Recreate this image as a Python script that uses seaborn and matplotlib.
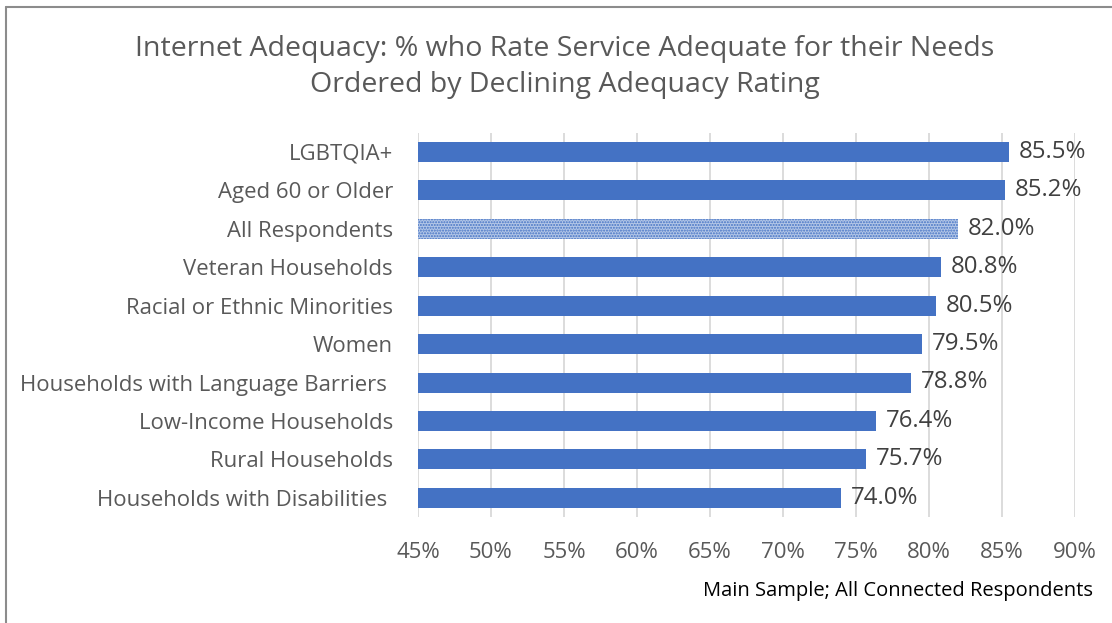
import pandas as pd
import matplotlib
matplotlib.use("Agg")
import matplotlib.pyplot as plt
import seaborn as sns
from matplotlib.lines import Line2D

# данные
groups = ["LGBTQIA+", "Aged 60 or Older", "All Respondents", "Veteran Households",
          "Racial or Ethnic Minorities", "Women", "Households with Language Barriers ",
          "Low-Income Households", "Rural Households", "Households with Disabilities "]
adequate = [85.5, 85.2, 82.0, 80.8, 80.5, 79.5, 78.8, 76.4, 75.7, 74.0]
x_ticks = [45, 50, 55, 60, 65, 70, 75, 80, 85, 90]

title = "Internet Adequacy: % who Rate Service Adequate for their Needs\nOrdered by Declining Adequacy Rating"
note = "Main Sample; All Connected Respondents"

df = pd.DataFrame({"group": groups, "pct": adequate})

sns.set_theme(style="white")
plt.rcParams['font.family'] = ['Open Sans', 'DejaVu Sans']
plt.rcParams['hatch.linewidth'] = 1.0

blue = "#4472C4"
grey = "#595959"

fig = plt.figure(figsize=(11.12, 6.23), dpi=100)
ax = fig.add_axes([0.3759, 0.170, 0.5908, 0.617])

sns.barplot(data=df, x="pct", y="group", orient="h", color=blue,
            width=0.52, saturation=1, ax=ax)

# заштрихованный столбец "All Respondents"
for bar, g in zip(ax.patches, groups):
    bar.set_linewidth(0)
    if g == "All Respondents":
        bar.set_facecolor("#b4c7e7")
        bar.set_edgecolor(blue)
        bar.set_hatch("......")

ax.set_xlim(45, 90)
ax.set_xticks(x_ticks)
ax.set_xticklabels([f"{t}%" for t in x_ticks])
ax.set_ylim(len(groups) - 0.5, -0.5)
ax.set_xlabel("")
ax.set_ylabel("")
ax.grid(axis="x", color="#d9d9d9", linewidth=1.3)
ax.set_axisbelow(True)
for s in ax.spines.values():
    s.set_visible(False)
ax.tick_params(axis="y", length=0, labelsize=15.9, colors=grey, pad=18)
ax.tick_params(axis="x", length=0, labelsize=16, colors=grey, pad=18)

labels = ax.bar_label(ax.containers[0], labels=[f"{v:.1f}%" for v in adequate],
                      padding=7, fontsize=17.3, color="#404040")
for t in labels:
    t.set_y(t.get_position()[1] + 0.06)

fig.text(0.508, 0.892, title, ha="center", va="center", fontsize=20.5,
         color=grey, linespacing=1.4)
fig.text(0.983, 0.051, note, ha="right", va="center", fontsize=14.5, color="black")

# рамка
fig.add_artist(Line2D([6 / 1112, 6 / 1112], [0, 1 - 7 / 623], transform=fig.transFigure,
                      color="#8c8c8c", linewidth=1.5))
fig.add_artist(Line2D([6 / 1112, 1], [1 - 7 / 623, 1 - 7 / 623], transform=fig.transFigure,
                      color="#8c8c8c", linewidth=1.5))

fig.savefig("out.png", dpi=100)
